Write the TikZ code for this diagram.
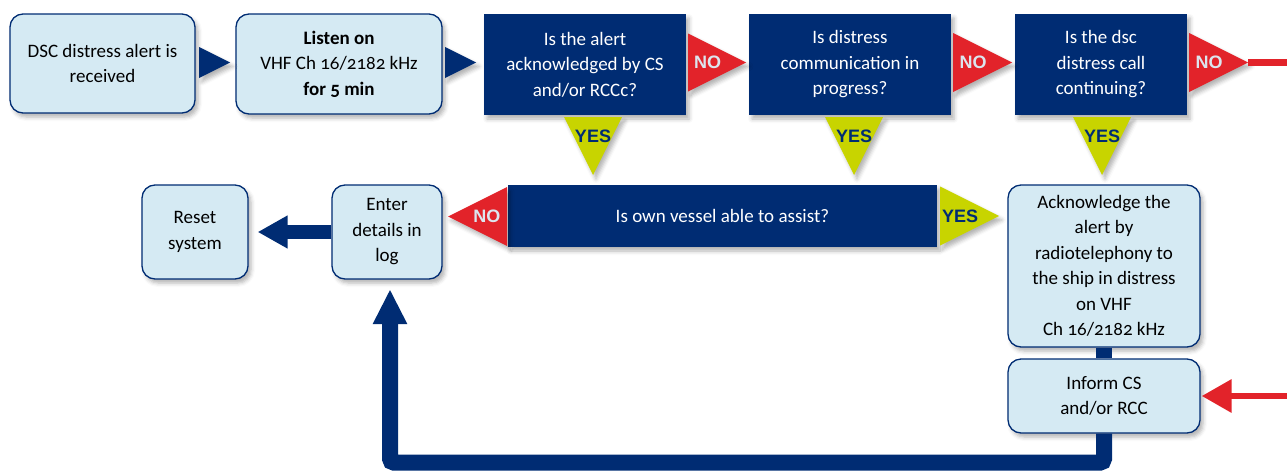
\documentclass[tikz,border=0pt]{standalone}
\usepackage{fontspec}
\setmainfont{Carlito}[Numbers=OldStyle]
\newfontfamily\tagfont{Liberation Sans}
\usetikzlibrary{calc,arrows.meta,shadows.blur}

\definecolor{navy}{HTML}{002C73}
\definecolor{paleblue}{HTML}{D5EAF3}
\definecolor{alarm}{HTML}{E2232A}
\definecolor{okay}{HTML}{C8D400}
\definecolor{notext}{HTML}{DCE5EE}

\tikzset{
  softshadow/.style={blur shadow={shadow xshift=3pt, shadow yshift=-4pt,
      shadow blur radius=4pt, shadow opacity=30}},
  infobox/.style={draw=navy, line width=1.3pt, fill=paleblue, rounded corners=13pt,
      align=center, inner sep=2pt, softshadow,
      font=\fontsize{19}{25.5}\selectfont},
  question/.style={fill=navy, text=white, align=center, inner sep=2pt, softshadow,
      font=\fontsize{19}{25.5}\selectfont},
  nolbl/.style={text=notext, inner sep=0pt, font=\tagfont\bfseries\fontsize{18}{18}\selectfont},
  yeslbl/.style={text=navy, inner sep=0pt, font=\tagfont\bfseries\fontsize{18}{18}\selectfont},
  flowline/.style={draw=navy},
  alarmline/.style={draw=alarm, line width=6.5pt}
}

\begin{document}
\begin{tikzpicture}[x=1pt,y=-1pt]
  \clip (0,0) rectangle (1287,471);

  %% Top row: actions and questions
  \node[infobox, minimum width=185pt, minimum height=99pt] (alert) at (102.5,63.5)
    {DSC distress alert is\\received};
  \node[infobox, minimum width=206pt, minimum height=100pt] (listen) at (339,64)
    {\textbf{Listen on}\\VHF Ch 16/2182 kHz\\\textbf{for 5 min}};
  \node[question, minimum width=202pt, minimum height=101pt] (q1) at (585,64.5)
    {Is the alert\\acknowledged by CS\\and/or RCCc?};
  \node[question, minimum width=202pt, minimum height=101pt] (q2) at (850,64.5)
    {Is distress\\communication in\\progress?};
  \node[question, minimum width=172pt, minimum height=101pt] (q3) at (1101,64.5)
    {Is the dsc\\distress call\\continuing?};

  %% Lower part
  \node[question, minimum width=429pt, minimum height=62pt] (assist) at (722.5,216)
    {Is own vessel able to assist?};
  \node[infobox, minimum width=192pt, minimum height=162pt] (ack) at (1104,266)
    {Acknowledge the\\alert by\\radiotelephony to\\the ship in distress\\on VHF\\Ch 16/2182 kHz};
  \node[infobox, minimum width=192pt, minimum height=74pt] (inform) at (1104,396)
    {Inform CS\\and/or RCC};
  \node[infobox, minimum width=110pt, minimum height=94pt] (enter) at (387,232)
    {Enter\\details in\\log};
  \node[infobox, minimum width=106pt, minimum height=94pt] (reset) at (195,232)
    {Reset\\system};

  %% Triangle markers: base middle -> apex
  \foreach \n/\bx/\by/\ax/\ay/\col in {go1/199/62.5/230/62.5/navy,
      go2/445/62.5/476/62.5/navy,
      no1/688/62.5/746/62.5/alarm, no2/953/62.5/1012/62.5/alarm,
      no3/1189/62.5/1248/62.5/alarm, no4/507/216.5/448/216.5/alarm,
      yes1/593/117/593/175/okay, yes2/854/117/854/175/okay,
      yes3/1102/117/1102/175/okay, yes4/940/216/999/216/okay}
  {
    \coordinate (\n-b) at (\bx,\by);
    \coordinate (\n-a) at (\ax,\ay);
    \fill[\col, softshadow] ($(\n-b)!0.5!90:(\n-a)$) -- (\n-a)
      -- ($(\n-b)!0.5!-90:(\n-a)$) -- cycle;
  }
  \foreach \n in {no1,no2,no3,no4}
    \node[nolbl] (\n) at ($(\n-b)!0.34!(\n-a)$) {NO};
  \foreach \n in {yes1,yes2,yes3,yes4}
    \node[yeslbl] (\n) at ($(\n-b)!0.34!(\n-a)$) {YES};

  %% Connectors
  \coordinate (bend) at ($(inform.east)+(100,0)$);
  \draw[alarmline, -{Triangle[length=30pt,width=32pt]}, shorten >=1pt]
    (no3-a) -| (bend) -- (inform.east);

  \draw[flowline, line width=16pt] (ack.south) -- (inform.north);
  \coordinate (loop) at ($(enter.south)+(3,183)$);
  \draw[flowline, line width=16pt, rounded corners=4pt,
    -{Triangle[length=35pt,width=32pt]}, shorten >=9.5pt]
    (inform.south) |- (loop) -- (loop |- enter.south);
  \draw[flowline, line width=14pt, -{Triangle[length=30pt,width=31pt]}, shorten >=9pt]
    (enter.west) -- (reset.east);
\end{tikzpicture}
\end{document}
